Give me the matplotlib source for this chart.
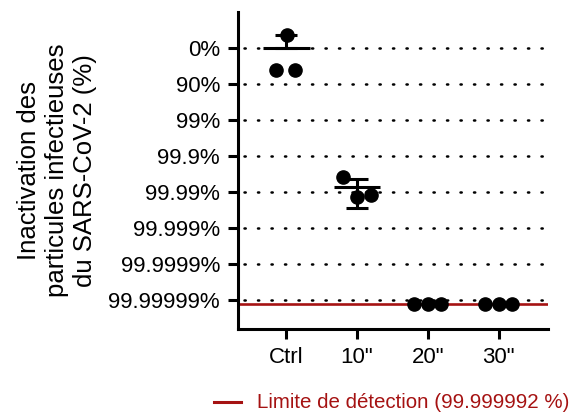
import matplotlib
matplotlib.use("Agg")
import matplotlib.pyplot as plt
import numpy as np

plt.rcParams["font.family"] = ["Liberation Sans", "DejaVu Sans"]

# groups and log10 reduction values
groups = ["Ctrl", "10\"", "20\"", "30\""]
log_red_ctrl = [0.61, 0.61, -0.36]
log_red_10s = [3.58, 4.14, 4.08]
log_red_20s = [7.1, 7.1, 7.1]
log_red_30s = [7.1, 7.1, 7.1]
point_offsets = [[-0.14, 0.13, 0.01], [-0.20, 0.0, 0.20],
                 [-0.19, 0.0, 0.19], [-0.19, 0.0, 0.19]]
means = [0.0, 3.86, 7.1, 7.1]
# error toward 0 % (drawn upward) and toward higher inactivation (downward)
err_toward_zero = [0.36, 0.22, 0.0, 0.0]
err_toward_high = [0.0, 0.58, 0.0, 0.0]

tick_levels = [0, 1, 2, 3, 4, 5, 6, 7]
tick_labels = ["0%", "90%", "99%", "99.9%", "99.99%", "99.999%",
               "99.9999%", "99.99999%"]
lod = 7.097  # 99.999992 %
lod_label = "Limite de détection (99.999992 %)"
red = "#A51212"

fig = plt.figure(figsize=(5.79, 4.12), dpi=100)
ax = fig.add_axes([0.411, 0.2015, 0.535, 0.7695])

for lv in tick_levels:
    ax.axhline(lv, xmin=0.02, xmax=0.99, color="black", lw=1.8,
               linestyle=(0, (0.5, 4.9)), dash_capstyle="round", zorder=1)

ax.axhline(lod, color=red, lw=1.9, zorder=2)

series = [log_red_ctrl, log_red_10s, log_red_20s, log_red_30s]
for i, vals in enumerate(series):
    xs = i + np.array(point_offsets[i])
    ax.plot(xs, vals, "o", color="black", ms=9.5, zorder=4, clip_on=False)
    if err_toward_zero[i] > 0 or err_toward_high[i] > 0:
        ax.plot([i - 0.33, i + 0.33], [means[i], means[i]], color="black",
                lw=2.2, zorder=3, solid_capstyle="butt")
        ax.errorbar([i], [means[i]],
                    yerr=[[err_toward_zero[i]], [err_toward_high[i]]],
                    fmt="none", ecolor="black", elinewidth=2.2, capsize=8,
                    capthick=2.2, zorder=3)

ax.set_xlim(-0.68, 3.69)
ax.set_ylim(7.8, -1.0)
ax.set_xticks(range(len(groups)))
ax.set_xticklabels(groups)
ax.set_yticks(tick_levels)
ax.set_yticklabels(tick_labels)
ax.tick_params(axis="both", labelsize=16, width=2.2, length=7, pad=6)

for side in ["top", "right"]:
    ax.spines[side].set_visible(False)
for side in ["left", "bottom"]:
    ax.spines[side].set_linewidth(2.2)

fig.text(0.098, 0.587, "Inactivation des\nparticules infectieuses\ndu SARS-CoV-2 (%)",
         rotation=90, ha="center", va="center", fontsize=18.5,
         multialignment="center", linespacing=1.2)

# legend for the detection limit
fig.lines.append(plt.Line2D([214 / 579, 241 / 579], [1 - 402 / 412] * 2,
                            color=red, lw=2.2, transform=fig.transFigure))
fig.text(257 / 579, 1 - 402 / 412, lod_label, color=red, fontsize=14.8,
         ha="left", va="center")

fig.savefig("out.png", dpi=100)
